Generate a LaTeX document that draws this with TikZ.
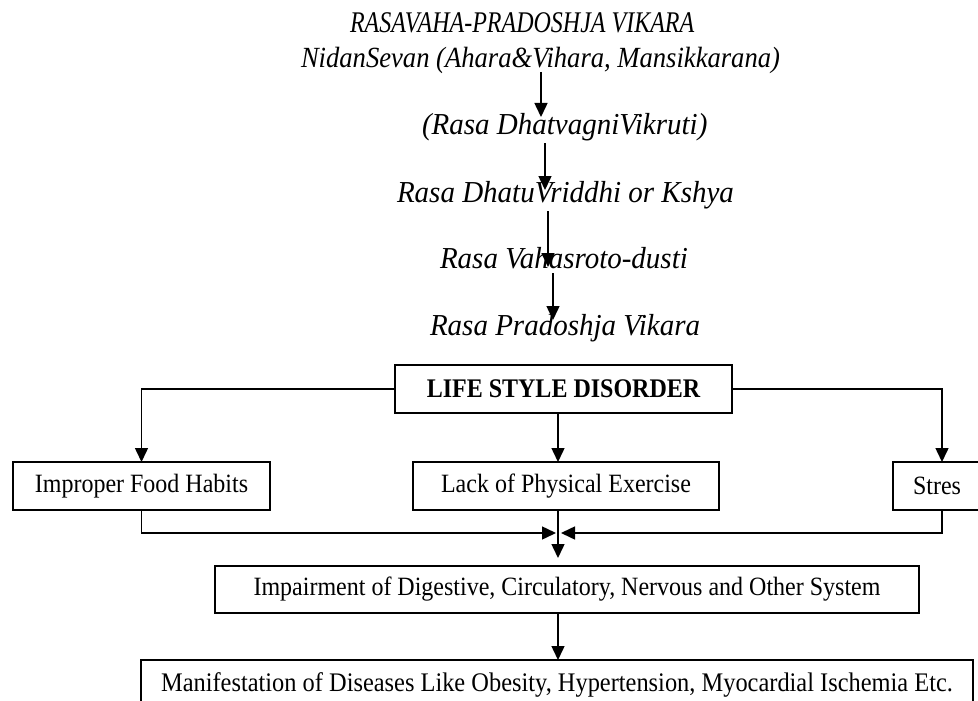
\documentclass[tikz,border=0pt]{standalone}
\usepackage{fontspec}
\usepackage{graphicx}
\setmainfont{Liberation Serif}
\usetikzlibrary{arrows.meta}
\newcommand{\ystretch}[2]{\scalebox{1}[#1]{#2}}
\begin{document}
\begin{tikzpicture}[x=1pt,y=-1pt,
  every node/.style={inner sep=0pt, outer sep=0pt},
  ital/.style={font=\fontsize{29}{31}\selectfont\itshape, anchor=base west},
  boxstyle/.style={draw, line width=1.5pt, font=\fontsize{24}{26}\selectfont, anchor=north west, minimum height=48pt},
  arr/.style={line width=1.5pt, -{Triangle[width=13pt,length=14pt]}},
  ln/.style={line width=1.5pt}]
\useasboundingbox (0,0) rectangle (978,701);
\clip (0,0) rectangle (978,701);

% italic chain
\node[ital, font=\fontsize{24}{26}\selectfont\itshape] (t0) at (350,33) {\ystretch{1.25}{RASAVAHA-PRADOSHJA VIKARA}};
\node[ital, font=\fontsize{26.6}{28}\selectfont\itshape] (t1) at (301,68) {\ystretch{1.1}{NidanSevan (Ahara\&Vihara, Mansikkarana)}};
\node[ital] (t2) at (422,134) {\ystretch{1.05}{(Rasa DhatvagniVikruti)}};
\node[ital] (t3) at (397,202) {\ystretch{1.05}{Rasa DhatuVriddhi or Kshya}};
\node[ital] (t4) at (440,268) {\ystretch{1.05}{Rasa Vahasroto-dusti}};
\node[ital] (t5) at (430,335) {\ystretch{1.05}{Rasa Pradoshja Vikara}};

\coordinate (a1s) at (541,72);  \coordinate (a1e) at (541,117);
\coordinate (a2s) at (545,143); \coordinate (a2e) at (545,190);
\coordinate (a3s) at (548,211); \coordinate (a3e) at (548,267);
\coordinate (a4s) at (553,273); \coordinate (a4e) at (553,320);
\draw[arr] (a1s) -- (a1e);
\draw[arr] (a2s) -- (a2e);
\draw[arr] (a3s) -- (a3e);
\draw[arr] (a4s) -- (a4e);

% boxes
\node[boxstyle, minimum width=337pt, font=\fontsize{24}{26}\selectfont\bfseries] (life) at (395,365) {\ystretch{1.12}{LIFE STYLE DISORDER}};
\node[boxstyle, minimum width=257pt] (food) at (13,462) {\ystretch{1.1}{Improper Food Habits}};
\node[boxstyle, minimum width=306pt] (lack) at (413,462) {\ystretch{1.1}{Lack of Physical Exercise}};
\node[boxstyle, minimum width=88pt] (stres) at (893,462) {\ystretch{1.1}{Stres}};
\node[boxstyle, minimum width=704pt, minimum height=47pt] (imp) at (215,566) {\ystretch{1.1}{Impairment of Digestive, Circulatory, Nervous and Other System}};
\node[boxstyle, minimum width=832pt, minimum height=50pt, font=\fontsize{24.4}{26}\selectfont] (man) at (141,660) {\ystretch{1.1}{Manifestation of Diseases Like Obesity, Hypertension, Myocardial Ischemia Etc.}};

\coordinate (cx) at (558,0);
\coordinate (rx) at (942,0);
\coordinate (jl) at (556,533);
\coordinate (jr) at (561,533);
\coordinate (jd) at (558,558);

\draw[arr] (life.west) -| (food.north);
\draw[arr] (life.south -| cx) -- (lack.north -| cx);
\draw[arr] (life.east) -| (stres.north -| rx);

\draw[arr] (food.south) |- (jl);
\draw[arr] (stres.south -| rx) |- (jr);
\draw[arr] (lack.south -| cx) -- (jd);
\draw[arr] (imp.south -| cx) -- (man.north -| cx);
\end{tikzpicture}
\end{document}
